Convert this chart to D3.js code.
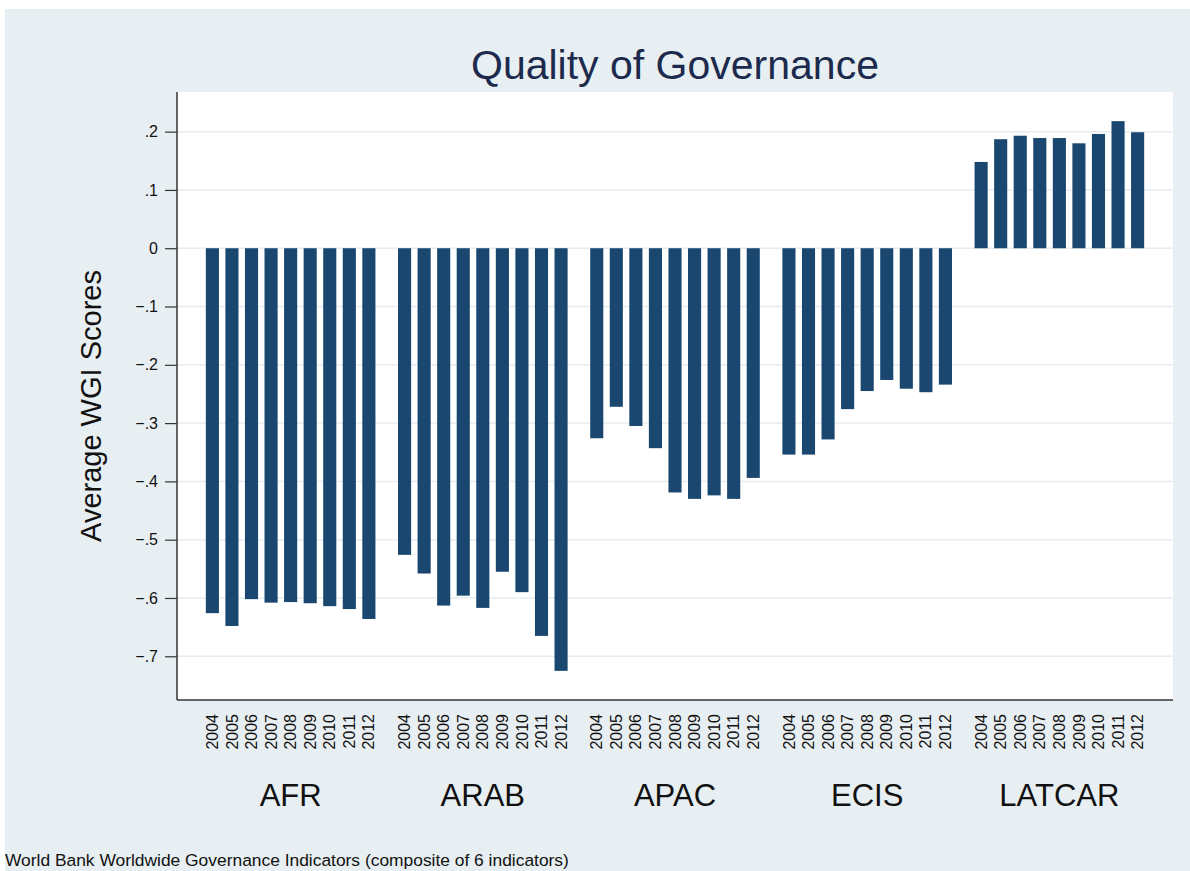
<!DOCTYPE html>
<html>
<head>
<meta charset="utf-8">
<script src="https://cdn.jsdelivr.net/npm/d3@7"></script>
<style>
  body { margin: 0; background: #fff; }
  svg { display: block; font-family: "Liberation Sans", Arial, sans-serif; }
</style>
</head>
<body>
<div id="chart-container"></div>
<script>
/* Quality of Governance: grouped bars by region and year */

const regions = ["AFR", "ARAB", "APAC", "ECIS", "LATCAR"];
const years = ["2004", "2005", "2006", "2007", "2008", "2009", "2010", "2011", "2012"];

const afr = [-0.626, -0.648, -0.602, -0.608, -0.607, -0.609, -0.614, -0.619, -0.636];
const arab = [-0.526, -0.558, -0.613, -0.596, -0.617, -0.555, -0.590, -0.665, -0.725];
const apac = [-0.326, -0.272, -0.305, -0.343, -0.419, -0.430, -0.424, -0.430, -0.394];
const ecis = [-0.354, -0.354, -0.328, -0.276, -0.245, -0.226, -0.241, -0.247, -0.234];
const latcar = [0.148, 0.187, 0.193, 0.189, 0.189, 0.180, 0.196, 0.218, 0.199];

const yTicks = [-0.7, -0.6, -0.5, -0.4, -0.3, -0.2, -0.1, 0, 0.1, 0.2];

function create_bars() {
  let height = 871,
    width = 1190,
    margin = { top: 92, right: 17, bottom: 171, left: 177 };

  const series = [afr, arab, apac, ecis, latcar];
  let data = [];
  regions.forEach((r, i) => {
    years.forEach((yr, j) => {
      data.push({ region: r, year: yr, value: series[i][j] });
    });
  });

  const svg = d3
    .select("#chart-container")
    .append("svg")
    .attr("width", width)
    .attr("height", height);

  // outer background
  svg
    .append("rect")
    .attr("x", 5)
    .attr("y", 9)
    .attr("width", width - 5)
    .attr("height", height - 9)
    .attr("fill", "#e8eff2");

  // plot region
  svg
    .append("rect")
    .attr("x", margin.left)
    .attr("y", margin.top)
    .attr("width", width - margin.right - margin.left)
    .attr("height", height - margin.bottom - margin.top)
    .attr("fill", "#ffffff");

  let x0 = d3
    .scaleBand()
    .domain(regions)
    .range([margin.left, width - margin.right])
    .paddingInner(0.1175)
    .paddingOuter(0.15);

  let x1 = d3
    .scaleBand()
    .domain(years)
    .range([0, x0.bandwidth()])
    .paddingInner(0.33)
    .paddingOuter(0);

  let y = d3
    .scaleLinear()
    .domain([-0.775, 0.268])
    .range([height - margin.bottom, margin.top]);

  const fmt = (d) => {
    if (Math.abs(d) < 1e-9) return "0";
    return d3.format(".1f")(d).replace("0.", ".");
  };

  // gridlines
  svg
    .append("g")
    .attr("class", "grid")
    .selectAll("line")
    .data(yTicks)
    .join("line")
    .attr("x1", margin.left)
    .attr("x2", width - margin.right)
    .attr("y1", (d) => y(d))
    .attr("y2", (d) => y(d))
    .style("stroke", "#e6ecef")
    .style("stroke-width", 1.5);

  // bars
  svg
    .append("g")
    .selectAll(".bar")
    .data(data)
    .join("rect")
    .attr("class", "bar")
    .attr("x", (d) => x0(d.region) + x1(d.year))
    .attr("width", x1.bandwidth())
    .attr("y", (d) => y(Math.max(0, d.value)))
    .attr("height", (d) => Math.abs(y(d.value) - y(0)))
    .attr("fill", "#1a476f");

  // y axis
  const yAxis = svg
    .append("g")
    .attr("class", "y-axis")
    .attr("transform", `translate(${margin.left},0)`)
    .call(
      d3.axisLeft(y).tickValues(yTicks).tickFormat(fmt).tickSize(12).tickPadding(7)
    );
  yAxis.select(".domain").remove();
  yAxis.selectAll(".tick line").style("stroke", "#333").style("stroke-width", 1.2);
  yAxis
    .selectAll(".tick text")
    .style("font-size", "16px")
    .style("fill", "#111");

  svg
    .append("line")
    .attr("x1", margin.left)
    .attr("x2", margin.left)
    .attr("y1", margin.top)
    .attr("y2", height - margin.bottom)
    .style("stroke", "#333")
    .style("stroke-width", 1.5);

  svg
    .append("line")
    .attr("x1", margin.left)
    .attr("x2", width - margin.right)
    .attr("y1", height - margin.bottom)
    .attr("y2", height - margin.bottom)
    .style("stroke", "#333")
    .style("stroke-width", 1.5);

  // year labels under each bar
  svg
    .append("g")
    .selectAll(".year-label")
    .data(data)
    .join("text")
    .attr("class", "year-label")
    .attr("text-anchor", "end")
    .attr(
      "transform",
      (d) =>
        `translate(${x0(d.region) + x1(d.year) + x1.bandwidth() / 2},714) rotate(-90)`
    )
    .attr("dy", "0.35em")
    .style("font-size", "16px")
    .style("fill", "#111")
    .text((d) => d.year);

  // region labels
  svg
    .append("g")
    .selectAll(".region-label")
    .data(regions)
    .join("text")
    .attr("class", "region-label")
    .attr("text-anchor", "middle")
    .attr("x", (d) => x0(d) + x0.bandwidth() / 2)
    .attr("y", 806)
    .style("font-size", "31px")
    .style("fill", "#111")
    .text((d) => d);

  // title
  svg
    .append("text")
    .attr("text-anchor", "middle")
    .attr("x", (margin.left + width - margin.right) / 2)
    .attr("y", 79)
    .style("font-size", "41px")
    .style("fill", "#1c2a4d")
    .text("Quality of Governance");

  // y label
  svg
    .append("text")
    .attr("text-anchor", "middle")
    .attr("transform", `translate(101,406) rotate(-90)`)
    .style("font-size", "29px")
    .style("fill", "#111")
    .text("Average WGI Scores");

  // note
  svg
    .append("text")
    .attr("x", 5)
    .attr("y", 866)
    .style("font-size", "17.4px")
    .style("fill", "#111")
    .text("World Bank Worldwide Governance Indicators (composite of 6 indicators)");
}

create_bars();
</script>
</body>
</html>
